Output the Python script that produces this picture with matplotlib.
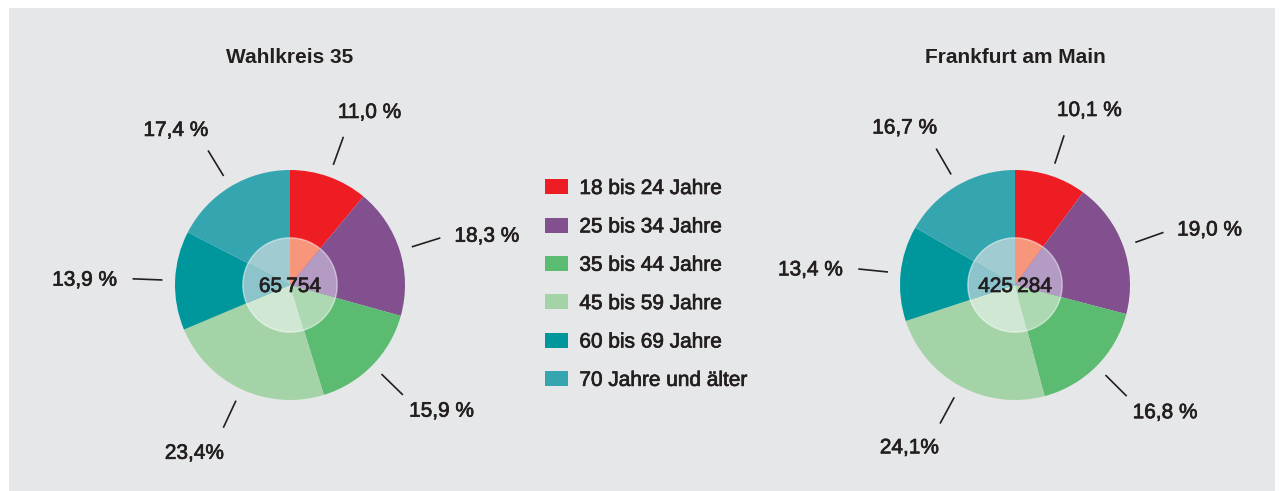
import numpy as np
import matplotlib
matplotlib.use("Agg")
import matplotlib.pyplot as plt
import matplotlib.patheffects as pe
from matplotlib.patches import Rectangle, Circle

plt.rcParams['font.family'] = ['Liberation Sans', 'DejaVu Sans']

# data
age_groups = ["18 bis 24 Jahre", "25 bis 34 Jahre", "35 bis 44 Jahre",
              "45 bis 59 Jahre", "60 bis 69 Jahre", "70 Jahre und älter"]
colors = ["#EE1D23", "#824F8F", "#5BBB71", "#A3D3A6", "#00979C", "#35A5B0"]
inner_colors = ["#F7967B", "#B39BC4", "#ACD9B2", "#D0E8D3", "#8DC4CB", "#A0CBD1"]

wk_values = [11.0, 18.3, 15.9, 23.4, 13.9, 17.4]
wk_labels = ["11,0 %", "18,3 %", "15,9 %", "23,4%", "13,9 %", "17,4 %"]
wk_total = "65\u2009754"

ffm_values = [10.1, 19.0, 16.8, 24.1, 13.4, 16.7]
ffm_labels = ["10,1 %", "19,0 %", "16,8 %", "24,1%", "13,4 %", "16,7 %"]
ffm_total = "425\u2009284"

titles = ["Wahlkreis 35", "Frankfurt am Main"]

W, H = 1281, 491
text_color = "#231F20"
panel_color = "#E6E7E8"
heavy = [pe.withStroke(linewidth=0.5, foreground=text_color)]

fig = plt.figure(figsize=(W / 100, H / 100), dpi=100)
fig.patch.set_facecolor("white")

ax = fig.add_axes([0, 0, 1, 1])
ax.set_facecolor("none")
# grey panel
ax.add_patch(Rectangle((9, 0), 1275 - 9, H - 8, facecolor=panel_color,
                       edgecolor="none", zorder=0))

R = 115
centers = [(290, H - 285), (1015, H - 285)]


def draw_pie(center, values, labels, total, title):
    wedges, _ = ax.pie(values, colors=colors, startangle=90, counterclock=False,
                       center=center, radius=R, normalize=True,
                       wedgeprops=dict(linewidth=0))
    # lighter inner ring
    ax.pie(values, colors=inner_colors, startangle=90, counterclock=False,
           center=center, radius=R * 0.41, normalize=True,
           wedgeprops=dict(linewidth=0))
    cx, cy = center
    ax.add_patch(Circle(center, R * 0.41, facecolor="none", alpha=0.5,
                        edgecolor="white", linewidth=1.0, zorder=3))
    ax.text(cx, cy - 7, total, ha="center", va="baseline", fontsize=15,
            color=text_color, zorder=4, path_effects=heavy)
    ax.text(cx, cy + 228, title, ha="center", va="center", fontsize=15,
            fontweight="bold", color=text_color)
    for w, lab in zip(wedges, labels):
        ang = np.deg2rad((w.theta1 + w.theta2) / 2)
        dx, dy = np.cos(ang), np.sin(ang)
        r0, r1 = R * 1.11, R * 1.37
        ex, ey = cx + dx * r1, cy + dy * r1
        ax.plot([cx + dx * r0, ex], [cy + dy * r0, ey],
                color=text_color, linewidth=1.2, solid_capstyle="butt")
        # label beside the end of the leader line
        tx = ex + np.sign(dx) * (15 + 33 * abs(dx))
        ty = ey + dy * (3 + 26 * abs(dy))
        ax.text(tx, ty - 7, lab, ha="center", va="baseline", fontsize=15,
                color=text_color, path_effects=heavy)
    return wedges


wedges = draw_pie(centers[0], wk_values, wk_labels, wk_total, titles[0])
draw_pie(centers[1], ffm_values, ffm_labels, ffm_total, titles[1])

ax.set_xlim(0, W)
ax.set_ylim(0, H)
ax.set_aspect("auto")
ax.axis("off")

leg = ax.legend(wedges, age_groups, loc="upper left",
                bbox_to_anchor=(545 / W, (H - 179) / H),
                bbox_transform=fig.transFigure, frameon=False,
                fontsize=15, handlelength=1.1, handleheight=0.72,
                handletextpad=0.55, labelspacing=0.93, borderpad=0,
                borderaxespad=0)
for t in leg.get_texts():
    t.set_color(text_color)
    t.set_path_effects(heavy)

fig.savefig("out.png", dpi=100, facecolor=fig.get_facecolor())
